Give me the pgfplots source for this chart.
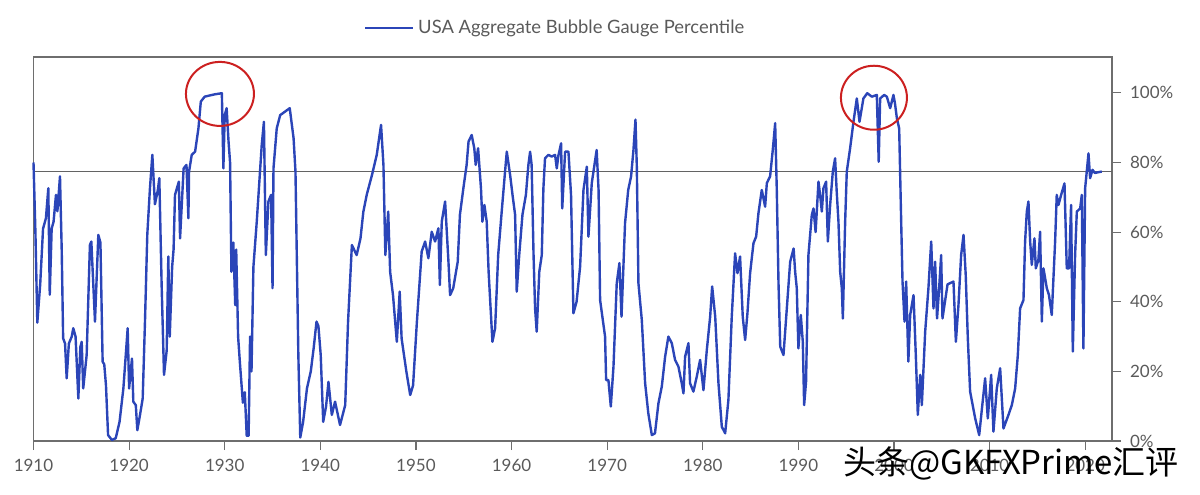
\documentclass[border=0pt]{standalone}
\usepackage{pgfplots}
\pgfplotsset{compat=1.18}
\usepackage{fontspec}
\setmainfont{Lato}
\newfontfamily\cjk{Noto Sans CJK SC}
\definecolor{bblue}{HTML}{2B45B8}
\definecolor{framegray}{HTML}{6E6E6E}
\definecolor{txtgray}{HTML}{5A5A5A}
\definecolor{circred}{HTML}{CC2020}
\begin{document}
\begin{tikzpicture}
\path[use as bounding box] (-16.75pt,-26.5pt) rectangle (583.25pt,220.5pt);
\begin{axis}[
  scale only axis,
  width=539.25pt, height=192pt,
  xmin=1910, xmax=2022.8,
  ymin=0, ymax=110.3,
  axis line style={draw=framegray, line width=0.6pt},
  tick style={draw=framegray, line width=0.6pt},
  tick align=outside,
  major tick length=4.5pt,
  xtick pos=lower,
  ytick pos=right,
  xtick={1910,1920,...,2020},
  ytick={0,20,...,100},
  /pgf/number format/assume math mode=true,
  x tick label style={/pgf/number format/1000 sep={}, font=\fontsize{8.5}{10}\selectfont, text=txtgray, yshift=-1pt},
  yticklabel={\pgfmathprintnumber{\tick}\%},
  y tick label style={font=\fontsize{8.5}{10}\selectfont, text=txtgray, xshift=1pt},
  clip=false,
  legend style={at={(axis description cs:0.4845,1.0755)}, anchor=center, draw=none, fill=none,
    font=\fontsize{9.2}{11}\selectfont, text=txtgray, inner sep=0pt},
  legend image code/.code={\draw[#1] (0pt,0pt) -- (24pt,0pt);},
  legend cell align=left,
]
\addplot[draw=framegray!90!black, line width=0.75pt, forget plot] coordinates {(1910,77.4) (2022.8,77.4)};
\addplot[bblue, line width=1.2pt, line join=round] coordinates {
(1910.0,80) (1910.2,60) (1910.4,34) (1910.7,45) (1911.0,61) (1911.3,64) (1911.55,72.6) (1911.7,42) (1911.9,61) (1912.1,63) (1912.35,70.7) (1912.5,66) (1912.77,76) (1912.95,55)
(1913.1,29.5) (1913.3,28) (1913.47,18) (1913.7,28) (1914.0,30) (1914.16,32.4) (1914.4,30) (1914.69,12.2) (1914.9,27) (1915.04,28.5) (1915.2,15.1) (1915.56,24.7) (1915.9,56.3) (1916.05,57.3)
(1916.43,34.3) (1916.78,59.2) (1917.0,57) (1917.23,22.8) (1917.4,22) (1917.58,16) (1917.8,1.7) (1918.2,0.3) (1918.6,0.8) (1919.0,5.5) (1919.4,15.1) (1919.85,32.4) (1920.0,15.1) (1920.3,23.7)
(1920.44,11.3) (1920.7,10.3) (1920.86,3.1) (1921.14,7.5) (1921.42,12.2) (1921.66,34.3) (1921.9,59.2) (1922.18,72.6) (1922.43,82.2) (1922.7,68) (1923.0,72) (1923.16,75.5) (1923.4,45) (1923.65,19)
(1923.93,26) (1924.1,53) (1924.25,30) (1924.5,50) (1924.65,55) (1924.8,70.7) (1925.2,74.5) (1925.33,58.2) (1925.7,78.3) (1926.0,79.3) (1926.2,64) (1926.27,77.4) (1926.55,82.2) (1926.9,83.1)
(1927.25,89.8) (1927.5,97.5) (1927.9,98.9) (1928.5,99.3) (1929.0,99.6) (1929.7,99.9) (1929.86,78.3) (1930.0,93.6) (1930.2,95.6) (1930.4,86) (1930.56,80) (1930.7,48.6) (1930.9,57) (1931.1,39)
(1931.2,55) (1931.4,30) (1931.6,22) (1931.9,11) (1932.1,14) (1932.3,1.5) (1932.5,1.5) (1932.65,30) (1932.8,20) (1933.0,50) (1933.35,63) (1933.87,85) (1934.1,91.7) (1934.3,53.4)
(1934.57,68.8) (1934.85,70.7) (1935.0,43.9) (1935.1,78.3) (1935.44,89.8) (1935.8,93.6) (1936.3,94.6) (1936.8,95.6) (1937.2,87) (1937.4,77.4) (1937.7,24.7) (1937.9,1.0) (1938.2,5.5) (1938.6,15.1)
(1939.0,20) (1939.3,26.6) (1939.6,34.3) (1939.8,33) (1940.04,24.7) (1940.3,5.5) (1940.6,10) (1940.85,17) (1941.2,7.5) (1941.54,11.3) (1942.06,4.6) (1942.6,10.3) (1942.9,34.3) (1943.3,56.3)
(1943.8,53.4) (1944.2,58.2) (1944.5,65.9) (1944.85,70.7) (1945.4,76.4) (1945.9,82.2) (1946.35,90.8) (1946.6,79.3) (1946.8,53.4) (1947.1,65.9) (1947.3,48.6) (1947.6,41.9) (1948.0,28.5) (1948.3,42.9)
(1948.5,29.5) (1949.0,19.9) (1949.4,13.2) (1949.7,16) (1950.1,34.3) (1950.6,54.4) (1950.96,57.3) (1951.3,52.5) (1951.65,60.1) (1952.0,57.3) (1952.35,61.1) (1952.5,44.8) (1952.7,63) (1953.05,68.8)
(1953.4,51.5) (1953.57,41.9) (1953.9,43.9) (1954.37,51.5) (1954.6,65) (1954.96,72.6) (1955.3,79.3) (1955.5,86) (1955.83,87.9) (1956.1,84.1) (1956.25,79.3) (1956.5,84.1) (1956.8,72.6) (1956.95,63)
(1957.16,67.8) (1957.4,63) (1957.6,48.6) (1957.75,41) (1958.0,28.5) (1958.28,32.4) (1958.6,53.4) (1958.97,65.9) (1959.32,77.4) (1959.5,83.1) (1959.85,76.4) (1960.1,70.7) (1960.37,65) (1960.54,42.9)
(1960.8,53.4) (1961.14,65) (1961.5,70.7) (1961.76,79.3) (1961.94,83.1) (1962.1,79.3) (1962.3,53.4) (1962.46,38.1) (1962.63,31.4) (1962.9,48.6) (1963.16,53.4) (1963.33,72.6) (1963.5,81.2) (1963.85,82.2)
(1964.2,81.7) (1964.55,82.2) (1964.73,78.3) (1964.9,82) (1965.18,85.5) (1965.3,66.8) (1965.6,83.1) (1965.95,83.1) (1966.22,70.7) (1966.47,36.7) (1966.8,40) (1967.17,50.1) (1967.52,72.1) (1967.87,78.8)
(1968.04,58.7) (1968.39,74.1) (1968.9,83.6) (1969.1,72.1) (1969.26,40.5) (1969.78,30) (1969.89,17.5) (1970.13,17.5) (1970.38,9.9) (1970.66,21.4) (1971.0,45.3) (1971.28,51.1) (1971.5,35.7) (1971.87,62.6)
(1972.2,72.1) (1972.5,76) (1972.75,83.6) (1972.96,92.3) (1973.1,78.8) (1973.27,45.3) (1973.62,34.8) (1973.97,16.6) (1974.3,8) (1974.67,1.7) (1975.0,2.2) (1975.36,10.8) (1975.71,15.6) (1976.06,24.2)
(1976.4,30) (1976.76,28.1) (1977.1,23.3) (1977.45,21.4) (1977.8,16.6) (1977.98,13.7) (1978.15,24.2) (1978.5,28.1) (1978.67,16.6) (1979.02,14.2) (1979.37,18.5) (1979.72,23.3) (1980.07,14.6) (1980.42,26.1)
(1980.77,35.7) (1980.98,44.4) (1981.3,35.7) (1981.64,16.6) (1981.99,4.1) (1982.34,2.2) (1982.68,11.8) (1983.03,35.7) (1983.38,53.9) (1983.63,48.2) (1983.9,53) (1984.18,35.7) (1984.43,29) (1984.67,36.7)
(1984.95,48.2) (1985.3,56.8) (1985.58,58.7) (1985.82,65.4) (1986.17,72.1) (1986.52,67.3) (1986.7,74.1) (1987.04,76) (1987.32,83.6) (1987.57,91.3) (1987.74,72.1) (1987.92,45.3) (1988.1,27.1) (1988.44,24.7)
(1988.79,38.1) (1989.14,51.5) (1989.5,55.3) (1989.66,48.6) (1989.83,43.9) (1990.0,26.6) (1990.25,36.2) (1990.46,28.5) (1990.6,10.3) (1990.8,17) (1991.05,53.4) (1991.4,64.9) (1991.58,66.8) (1991.8,60)
(1992.1,74.5) (1992.27,70.7) (1992.45,65.9) (1992.62,72.6) (1992.9,74.5) (1993.08,57.3) (1993.32,67.8) (1993.6,77.4) (1993.84,81.2) (1994.0,72) (1994.19,63) (1994.37,48.6) (1994.54,43.9) (1994.65,35.2)
(1994.89,63) (1995.06,77.4) (1995.41,84.1) (1995.76,91.7) (1996.11,98.4) (1996.39,91.7) (1996.8,98.4) (1997.2,99.9) (1997.68,98.9) (1998.2,99.4) (1998.4,80.2) (1998.55,98.4) (1998.97,99.4) (1999.25,98.9)
(1999.6,95.6) (1999.94,99.4) (2000.1,97) (2000.3,92.7) (2000.54,89.8) (2000.75,63) (2000.89,45.8) (2001.1,34.3) (2001.27,45.8) (2001.5,22.8) (2001.69,36.2) (2002.04,41.9) (2002.28,24.7) (2002.49,7.5)
(2002.74,19) (2002.91,10.3) (2003.26,31.4) (2003.6,43.9) (2003.89,57.3) (2004.13,38.1) (2004.3,51.5) (2004.5,35.2) (2004.72,43.9) (2004.93,53.4) (2005.07,35.2) (2005.6,45) (2006.22,45.8) (2006.47,28.5)
(2006.74,39) (2007.02,53.4) (2007.27,59.2) (2007.5,47.7) (2007.72,29.5) (2007.96,14.2) (2008.49,6.5) (2008.91,1.7) (2009.2,9.4) (2009.53,18) (2009.81,6.5) (2010.16,19) (2010.4,2.7) (2010.75,15.1)
(2011.1,20.9) (2011.45,3.6) (2011.97,7.5) (2012.32,10.3) (2012.67,15.1) (2012.95,24.7) (2013.19,38.1) (2013.54,40.5) (2013.71,57.3) (2013.89,65.9) (2014.06,68.8) (2014.24,57.3) (2014.41,50.6) (2014.69,58.2)
(2014.83,49.6) (2015.1,52) (2015.28,60.1) (2015.46,34.3) (2015.63,49.6) (2015.98,43.9) (2016.2,42) (2016.5,36.2) (2016.85,57.3) (2017.02,70.7) (2017.2,67.8) (2017.48,70.7) (2017.83,74) (2018.07,49.6)
(2018.31,49.6) (2018.52,67.8) (2018.7,25.7) (2018.94,53.4) (2019.12,65.9) (2019.47,66.8) (2019.64,70.7) (2019.81,26.6) (2019.99,72.6) (2020.16,77.4) (2020.34,82.6) (2020.51,75.5) (2020.76,77.9) (2021.0,77)
(2021.73,77.4)
};
\addlegendentry{USA Aggregate Bubble Gauge Percentile}
\draw[circred, line width=1pt] (axis cs:1929.5,99.7) ellipse [x radius=17pt, y radius=16pt];
\draw[circred, line width=1pt] (axis cs:1997.9,98.6) ellipse [x radius=16.5pt, y radius=16pt];
\end{axis}
\node[anchor=west, inner sep=0pt, text=black, font=\cjk\fontsize{16.5}{18}\selectfont] at (404.75pt,-11pt) {头条@GKFXPrime汇评};
\end{tikzpicture}
\end{document}
